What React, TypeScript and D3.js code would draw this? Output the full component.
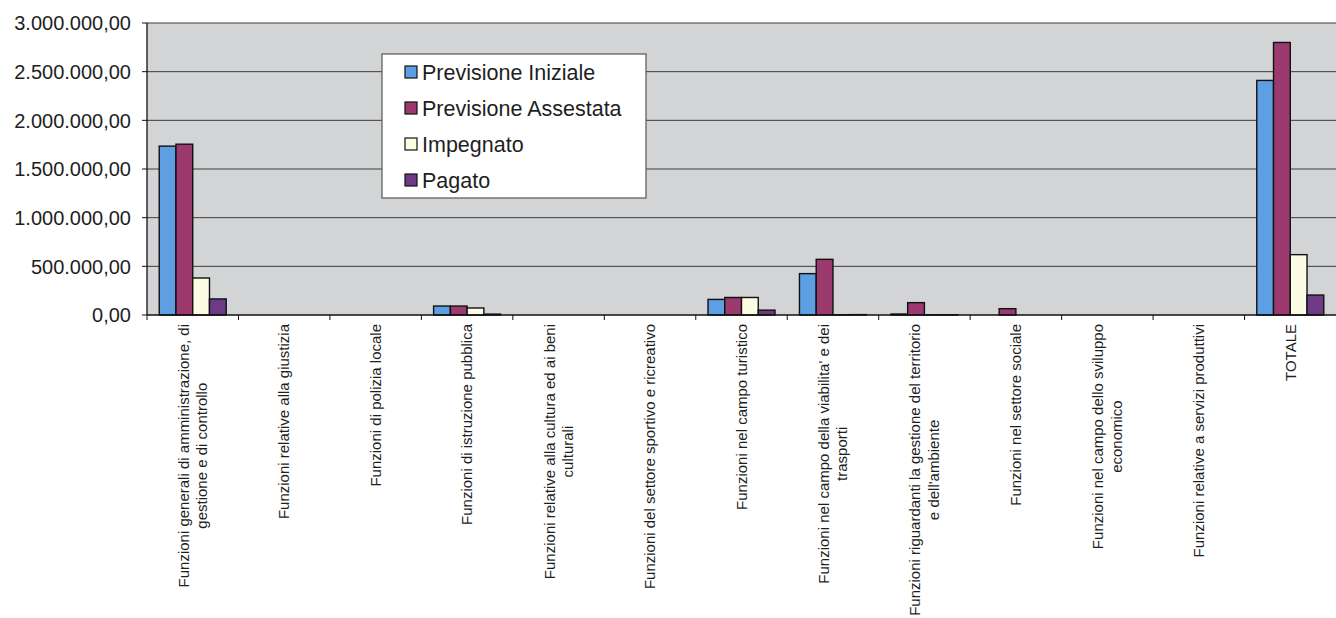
import * as d3 from 'd3'

const categories = [
  'Funzioni generali di amministrazione, di|gestione e di controllo',
  'Funzioni relative alla giustizia',
  'Funzioni di polizia locale',
  'Funzioni di istruzione pubblica',
  'Funzioni relative alla cultura ed ai beni|culturali',
  'Funzioni del settore sportivo e ricreativo',
  'Funzioni nel campo turistico',
  "Funzioni nel campo della viabilita' e dei|trasporti",
  "Funzioni riguardanti la gestione del territorio|e dell'ambiente",
  'Funzioni nel settore sociale',
  'Funzioni nel campo dello sviluppo|economico',
  'Funzioni relative a servizi produttivi',
  'TOTALE',
]

const seriesNames = ['Previsione Iniziale', 'Previsione Assestata', 'Impegnato', 'Pagato']
const seriesColors = ['#5e9fe4', '#9c3a6f', '#fcfbe4', '#6d3b86']

const previsioneIniziale = [1735000, 0, 0, 92000, 0, 0, 160000, 425000, 10000, 0, 0, 0, 2410000]
const previsioneAssestata = [1755000, 0, 0, 92000, 0, 0, 180000, 572000, 127000, 65000, 0, 0, 2800000]
const impegnato = [380000, 0, 0, 72000, 0, 0, 180000, 3000, 2000, 0, 0, 0, 620000]
const pagato = [165000, 0, 0, 9000, 0, 0, 50000, 4000, 3000, 0, 0, 0, 205000]

const yTicks = [0, 500000, 1000000, 1500000, 2000000, 2500000, 3000000]

const series = [previsioneIniziale, previsioneAssestata, impegnato, pagato]

const width = 1336
const height = 618
const marginLeft = 147
const marginRight = 0
const plotTop = 23
const plotBottom = 315

const font = '"Liberation Sans", Arial, Helvetica, sans-serif'
const labelSize = 15
const labelTop = 324
const lineH = 18.5

const itLocale = d3.formatLocale({
  decimal: ',',
  thousands: '.',
  grouping: [3],
  currency: ['€', ''],
})
const fmt = itLocale.format(',.2f')

let ctx: CanvasRenderingContext2D | null = null
function textWidth(s: string) {
  if (!ctx) ctx = document.createElement('canvas').getContext('2d')
  if (!ctx) return s.length * labelSize * 0.5
  ctx.font = `${labelSize}px ${font}`
  return ctx.measureText(s).width
}

export default function App() {
  const x0 = d3.scaleBand(categories, [marginLeft, width - marginRight])
  const x1 = d3
    .scaleBand(seriesNames, [0, x0.bandwidth()])
    .paddingInner(0)
    .paddingOuter(0.73)
  const y = d3.scaleLinear([0, 3000000], [plotBottom, plotTop])

  return (
    <svg
      width={width}
      height={height}
      style={{ position: 'absolute', left: 0, top: 0, background: '#fff' }}
      fontFamily={font}
    >
      {/* plot area */}
      <rect
        x={marginLeft}
        y={plotTop}
        width={width - marginRight - marginLeft}
        height={plotBottom - plotTop}
        fill="#d2d4d5"
      />
      {yTicks.slice(1).map((t) => (
        <line
          key={t}
          x1={marginLeft}
          x2={width - marginRight}
          y1={y(t)}
          y2={y(t)}
          stroke="#3c3c3c"
          strokeWidth={1}
        />
      ))}

      {/* bars */}
      {categories.map((c, i) => (
        <g key={c} transform={`translate(${x0(c)},0)`}>
          {series.map((s, j) => (
            <rect
              key={j}
              x={x1(seriesNames[j])}
              y={y(s[i])}
              width={x1.bandwidth()}
              height={plotBottom - y(s[i])}
              fill={seriesColors[j]}
              stroke="#111"
              strokeWidth={1.4}
            />
          ))}
        </g>
      ))}

      {/* axes */}
      <line x1={marginLeft} x2={marginLeft} y1={plotTop} y2={plotBottom} stroke="#111" strokeWidth={1.3} />
      <line
        x1={marginLeft}
        x2={width - marginRight}
        y1={plotBottom}
        y2={plotBottom}
        stroke="#111"
        strokeWidth={1.5}
      />
      {yTicks.map((t) => (
        <g key={t}>
          <line x1={marginLeft - 5} x2={marginLeft} y1={y(t)} y2={y(t)} stroke="#111" />
          <text
            x={131}
            y={y(t)}
            dy="0.36em"
            textAnchor="end"
            fontSize={20}
            fill="#1e1e1e"
          >
            {fmt(t)}
          </text>
        </g>
      ))}
      {categories.map((c) => (
        <line
          key={c}
          x1={x0(c)}
          x2={x0(c)}
          y1={plotBottom}
          y2={plotBottom + 5}
          stroke="#111"
        />
      ))}

      {/* category labels */}
      {categories.map((c) => {
        const lines = c.split('|')
        const maxW = Math.max(...lines.map(textWidth))
        const cx = (x0(c) as number) + x0.bandwidth() / 2
        return (
          <g key={c} transform={`translate(${cx},0) rotate(-90)`}>
            {lines.map((l, k) => (
              <text
                key={k}
                x={-(labelTop + maxW / 2)}
                y={(k - (lines.length - 1) / 2) * lineH}
                dy="0.35em"
                textAnchor="middle"
                fontSize={labelSize}
                fill="#1e1e1e"
              >
                {l}
              </text>
            ))}
          </g>
        )
      })}

      {/* legend */}
      <g transform="translate(382,54)">
        <rect width={264} height={144} fill="#fff" stroke="#555" strokeWidth={1.2} />
        {seriesNames.map((n, j) => (
          <g key={n} transform={`translate(23,${18 + j * 36})`}>
            <rect x={0} y={-6} width={12} height={12} fill={seriesColors[j]} stroke="#111" strokeWidth={1.2} />
            <text x={17} dy="0.36em" fontSize={21.5} fill="#1e1e1e">
              {n}
            </text>
          </g>
        ))}
      </g>
    </svg>
  )
}
